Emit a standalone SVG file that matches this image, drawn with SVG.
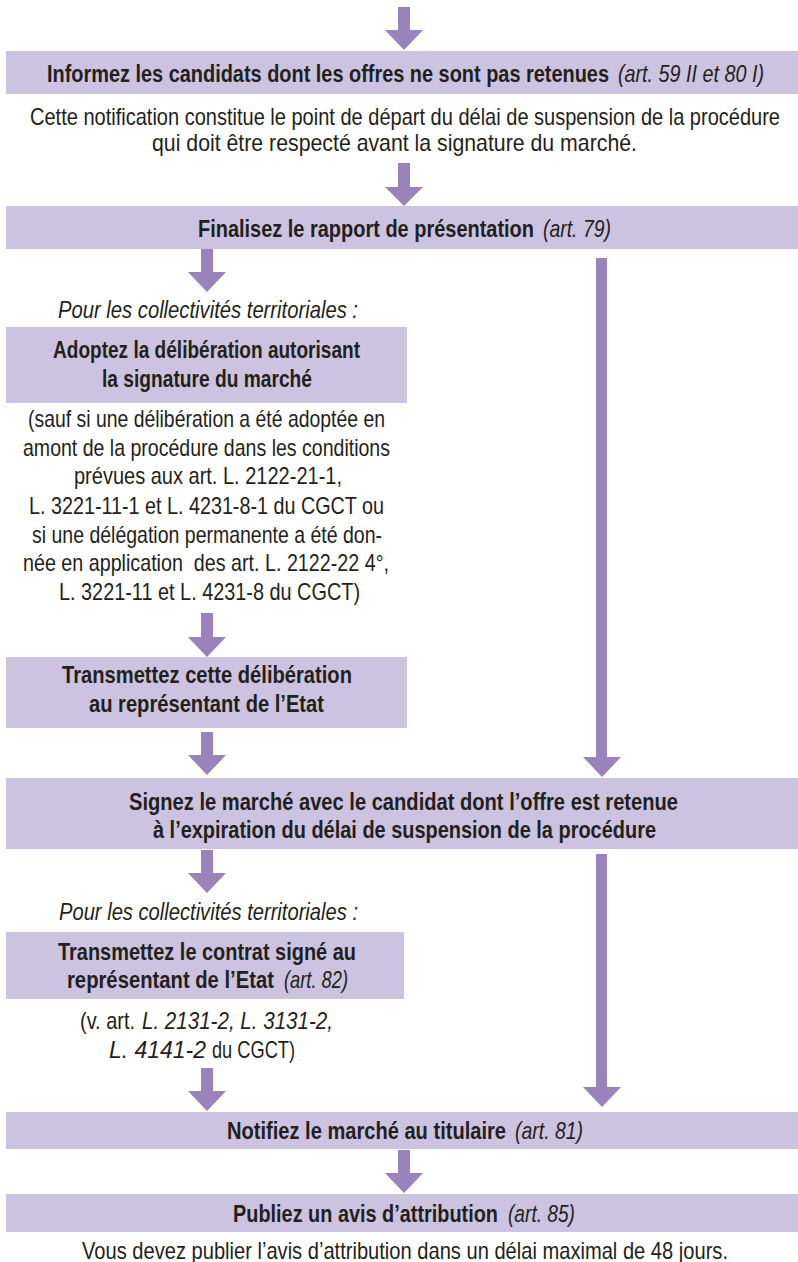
<svg xmlns="http://www.w3.org/2000/svg" width="798" height="1262" viewBox="0 0 798 1262">
<style>
.box{fill:#cbc3df}
.arr{fill:#9a82ba}
text{font-family:"Liberation Sans Narrow","Liberation Sans",Arial,sans-serif;font-size:23px;fill:#231f20}
.b{font-weight:bold}
.i{font-style:italic;font-weight:normal}
.r{font-style:normal;font-weight:normal}
</style>
<rect width="798" height="1262" fill="#ffffff"/>
<g id="connectors">
<path class="arr" d="M398,7 H410 V30 H423 L404,50 L385,30 H398 Z"/>
<path class="arr" d="M398,163 H410 V187 H423 L404,206 L385,187 H398 Z"/>
<path class="arr" d="M201,249 H213 V272 H226 L207,292 L188,272 H201 Z"/>
<path class="arr" d="M596,258 H607 V757 H621 L602,777 L583,757 H596 Z"/>
<path class="arr" d="M201,613 H213 V637 H226 L207,657 L188,637 H201 Z"/>
<path class="arr" d="M201,732 H213 V755 H226 L207,775 L188,755 H201 Z"/>
<path class="arr" d="M201,850 H213 V873 H226 L207,893 L188,873 H201 Z"/>
<path class="arr" d="M596,854 H607 V1087 H621 L602,1107 L583,1087 H596 Z"/>
<path class="arr" d="M201,1068 H213 V1091 H226 L207,1111 L188,1091 H201 Z"/>
<path class="arr" d="M398,1150 H410 V1173 H423 L404,1193 L385,1173 H398 Z"/>
</g>
<g id="informez">
<rect class="box" x="6" y="51" width="792" height="43"/>
<g transform="scale(0.8,1)">
<text class="b" x="58.75" y="82" textLength="702.5" lengthAdjust="spacingAndGlyphs">Informez les candidats dont les offres ne sont pas retenues</text>
<text class="i" x="772.5" y="82" textLength="182.5" lengthAdjust="spacingAndGlyphs">(art. 59 II et 80 I)</text>
</g>
</g>
<g id="note-notification">
<g transform="scale(0.8,1)">
<text x="37.5" y="125" textLength="937.5" lengthAdjust="spacingAndGlyphs">Cette notification constitue le point de départ du délai de suspension de la procédure</text>
<text x="190" y="151" textLength="606.25" lengthAdjust="spacingAndGlyphs">qui doit être respecté avant la signature du marché.</text>
</g>
</g>
<g id="finalisez">
<rect class="box" x="6" y="206" width="792" height="43"/>
<g transform="scale(0.8,1)">
<text class="b" x="247.5" y="237" textLength="420" lengthAdjust="spacingAndGlyphs">Finalisez le rapport de présentation</text>
<text class="i" x="678.75" y="237" textLength="85" lengthAdjust="spacingAndGlyphs">(art. 79)</text>
</g>
</g>
<g id="label-collectivites-1">
<g transform="scale(0.8,1)">
<text class="i" x="72.5" y="318" textLength="375" lengthAdjust="spacingAndGlyphs">Pour les collectivités territoriales :</text>
</g>
</g>
<g id="adoptez">
<rect class="box" x="6" y="327" width="401" height="76"/>
<g transform="scale(0.8,1)">
<text class="b" x="66.25" y="358" textLength="383.75" lengthAdjust="spacingAndGlyphs">Adoptez la délibération autorisant</text>
<text class="b" x="127.5" y="387" textLength="262.5" lengthAdjust="spacingAndGlyphs">la signature du marché</text>
</g>
</g>
<g id="note-sauf">
<g transform="scale(0.8,1)">
<text x="35" y="427" textLength="446.25" lengthAdjust="spacingAndGlyphs">(sauf si une délibération a été adoptée en</text>
<text x="28.75" y="456" textLength="458.75" lengthAdjust="spacingAndGlyphs">amont de la procédure dans les conditions</text>
<text x="92.5" y="484" textLength="335" lengthAdjust="spacingAndGlyphs">prévues aux art. L. 2122-21-1,</text>
<text x="36.25" y="514" textLength="443.75" lengthAdjust="spacingAndGlyphs">L. 3221-11-1 et L. 4231-8-1 du CGCT ou</text>
<text x="40" y="543" textLength="437.5" lengthAdjust="spacingAndGlyphs">si une délégation permanente a été don-</text>
<text x="28.75" y="571" textLength="457.5" lengthAdjust="spacingAndGlyphs">née en application &#160;des art. L. 2122-22 4°,</text>
<text x="73.75" y="600" textLength="376.25" lengthAdjust="spacingAndGlyphs">L. 3221-11 et L. 4231-8 du CGCT)</text>
</g>
</g>
<g id="transmettez-deliberation">
<rect class="box" x="6" y="657" width="401" height="71"/>
<g transform="scale(0.8,1)">
<text class="b" x="77.5" y="683" textLength="362.5" lengthAdjust="spacingAndGlyphs">Transmettez cette délibération</text>
<text class="b" x="111.25" y="712" textLength="293.75" lengthAdjust="spacingAndGlyphs">au représentant de l’Etat</text>
</g>
</g>
<g id="signez">
<rect class="box" x="6" y="778" width="792" height="71"/>
<g transform="scale(0.8,1)">
<text class="b" x="161.25" y="810" textLength="686.25" lengthAdjust="spacingAndGlyphs">Signez le marché avec le candidat dont l’offre est retenue</text>
<text class="b" x="191.25" y="838" textLength="628.75" lengthAdjust="spacingAndGlyphs">à l’expiration du délai de suspension de la procédure</text>
</g>
</g>
<g id="label-collectivites-2">
<g transform="scale(0.8,1)">
<text class="i" x="73.75" y="920" textLength="373.75" lengthAdjust="spacingAndGlyphs">Pour les collectivités territoriales :</text>
</g>
</g>
<g id="transmettez-contrat">
<rect class="box" x="6" y="932" width="398" height="67"/>
<g transform="scale(0.8,1)">
<text class="b" x="72.5" y="960" textLength="372.5" lengthAdjust="spacingAndGlyphs">Transmettez le contrat signé au</text>
<text class="b" x="83.75" y="988" textLength="258.75" lengthAdjust="spacingAndGlyphs">représentant de l’Etat</text>
<text class="i" x="355" y="988" textLength="80" lengthAdjust="spacingAndGlyphs">(art. 82)</text>
</g>
</g>
<g id="note-cgct">
<g transform="scale(0.8,1)">
<text x="100" y="1029" textLength="68.75" lengthAdjust="spacingAndGlyphs">(v. art.</text>
<text class="i" x="177.5" y="1029" textLength="238.75" lengthAdjust="spacingAndGlyphs">L. 2131-2, L. 3131-2,</text>
<text class="i" x="136.25" y="1058" textLength="121.25" lengthAdjust="spacingAndGlyphs">L. 4141-2</text>
<text x="265" y="1058" textLength="103.75" lengthAdjust="spacingAndGlyphs">du CGCT)</text>
</g>
</g>
<g id="notifiez">
<rect class="box" x="6" y="1112" width="792" height="37"/>
<g transform="scale(0.8,1)">
<text class="b" x="283.75" y="1139" textLength="348.75" lengthAdjust="spacingAndGlyphs">Notifiez le marché au titulaire</text>
<text class="i" x="643.75" y="1139" textLength="85" lengthAdjust="spacingAndGlyphs">(art. 81)</text>
</g>
</g>
<g id="publiez">
<rect class="box" x="6" y="1194" width="792" height="38"/>
<g transform="scale(0.8,1)">
<text class="b" x="291.25" y="1222" textLength="331.25" lengthAdjust="spacingAndGlyphs">Publiez un avis d’attribution</text>
<text class="i" x="635" y="1222" textLength="83.75" lengthAdjust="spacingAndGlyphs">(art. 85)</text>
</g>
</g>
<g id="note-publication">
<g transform="scale(0.8,1)">
<text x="102.5" y="1259" textLength="807.5" lengthAdjust="spacingAndGlyphs">Vous devez publier l’avis d’attribution dans un délai maximal de 48 jours.</text>
</g>
</g>
</svg>
